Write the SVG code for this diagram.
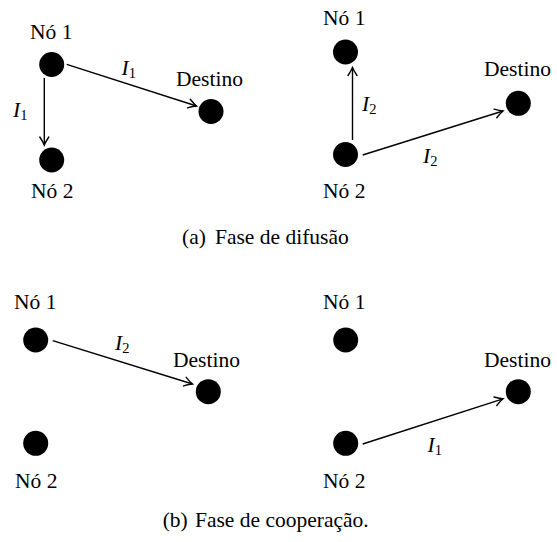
<svg xmlns="http://www.w3.org/2000/svg" width="557" height="542" viewBox="0 0 557 542">
<defs>
<marker id="arr" viewBox="-10 -6 12 12" markerWidth="12" markerHeight="12" refX="0" refY="0" orient="auto" markerUnits="userSpaceOnUse">
<path d="M -8 -4.5 Q -3 -1.2 0 0 Q -3 1.2 -8 4.5" stroke="#000" stroke-width="1.4" fill="none" stroke-linecap="round"/>
</marker>
</defs>

<g id="connectors" stroke="#000" stroke-width="1.4" fill="none" marker-end="url(#arr)">
<line x1="66.7" y1="64.3" x2="196.5" y2="106"/>
<line x1="44.3" y1="78" x2="44.3" y2="145"/>
<line x1="352.5" y1="140" x2="352.5" y2="67.5"/>
<line x1="362.7" y1="155" x2="503" y2="111"/>
<line x1="52.7" y1="340.7" x2="192.5" y2="384"/>
<line x1="362.7" y1="444" x2="503" y2="398.8"/>
</g>

<g id="edge-labels" fill="#000">
<text x="121.5" y="74.5" style="font-family: 'Liberation Serif', serif; font-size: 21.5px; font-style: italic">I<tspan style="font-size: 14.5px; font-style: normal" dy="3">1</tspan></text>
<text x="13" y="117" style="font-family: 'Liberation Serif', serif; font-size: 21.5px; font-style: italic">I<tspan style="font-size: 14.5px; font-style: normal" dy="3">1</tspan></text>
<text x="362" y="110.5" style="font-family: 'Liberation Serif', serif; font-size: 21.5px; font-style: italic">I<tspan style="font-size: 14.5px; font-style: normal" dy="3">2</tspan></text>
<text x="423" y="163" style="font-family: 'Liberation Serif', serif; font-size: 21.5px; font-style: italic">I<tspan style="font-size: 14.5px; font-style: normal" dy="3">2</tspan></text>
<text x="115" y="350" style="font-family: 'Liberation Serif', serif; font-size: 21.5px; font-style: italic">I<tspan style="font-size: 14.5px; font-style: normal" dy="3">2</tspan></text>
<text x="427.5" y="451.5" style="font-family: 'Liberation Serif', serif; font-size: 21.5px; font-style: italic">I<tspan style="font-size: 14.5px; font-style: normal" dy="3">1</tspan></text>
</g>

<g id="a-no1"><circle cx="51.7" cy="64.5" r="12.5"/><text x="30" y="39" style="font-family: 'Liberation Serif', serif; font-size: 21.5px">Nó 1</text></g>
<g id="a-no2"><circle cx="51.7" cy="160" r="12.5"/><text x="31" y="198" style="font-family: 'Liberation Serif', serif; font-size: 21.5px">Nó 2</text></g>
<g id="a-destino"><circle cx="211" cy="111.5" r="12.5"/><text x="176" y="86" style="font-family: 'Liberation Serif', serif; font-size: 21.5px">Destino</text></g>

<g id="a2-no1"><circle cx="345.5" cy="52" r="12.5"/><text x="323" y="25" style="font-family: 'Liberation Serif', serif; font-size: 21.5px">Nó 1</text></g>
<g id="a2-no2"><circle cx="345.5" cy="154.5" r="12.5"/><text x="323" y="198" style="font-family: 'Liberation Serif', serif; font-size: 21.5px">Nó 2</text></g>
<g id="a2-destino"><circle cx="518.3" cy="103.3" r="12.5"/><text x="484" y="76" style="font-family: 'Liberation Serif', serif; font-size: 21.5px">Destino</text></g>

<g id="b-no1"><circle cx="35.7" cy="340" r="12.5"/><text x="14" y="309" style="font-family: 'Liberation Serif', serif; font-size: 21.5px">Nó 1</text></g>
<g id="b-no2"><circle cx="35.7" cy="443.3" r="12.5"/><text x="15" y="488" style="font-family: 'Liberation Serif', serif; font-size: 21.5px">Nó 2</text></g>
<g id="b-destino"><circle cx="208.3" cy="391.7" r="12.5"/><text x="173" y="367" style="font-family: 'Liberation Serif', serif; font-size: 21.5px">Destino</text></g>

<g id="b2-no1"><circle cx="345.7" cy="340" r="12.5"/><text x="323" y="309" style="font-family: 'Liberation Serif', serif; font-size: 21.5px">Nó 1</text></g>
<g id="b2-no2"><circle cx="345.7" cy="443.3" r="12.5"/><text x="323" y="488" style="font-family: 'Liberation Serif', serif; font-size: 21.5px">Nó 2</text></g>
<g id="b2-destino"><circle cx="518.3" cy="391.7" r="12.5"/><text x="484" y="367" style="font-family: 'Liberation Serif', serif; font-size: 21.5px">Destino</text></g>

<g id="captions">
<text y="244" style="font-family: 'Liberation Serif', serif; font-size: 21.5px"><tspan x="182">(a)</tspan><tspan x="215">Fase de difusão</tspan></text>
<text y="527" style="font-family: 'Liberation Serif', serif; font-size: 21.5px"><tspan x="162.7">(b)</tspan><tspan x="195">Fase de cooperação.</tspan></text>
</g>
</svg>
